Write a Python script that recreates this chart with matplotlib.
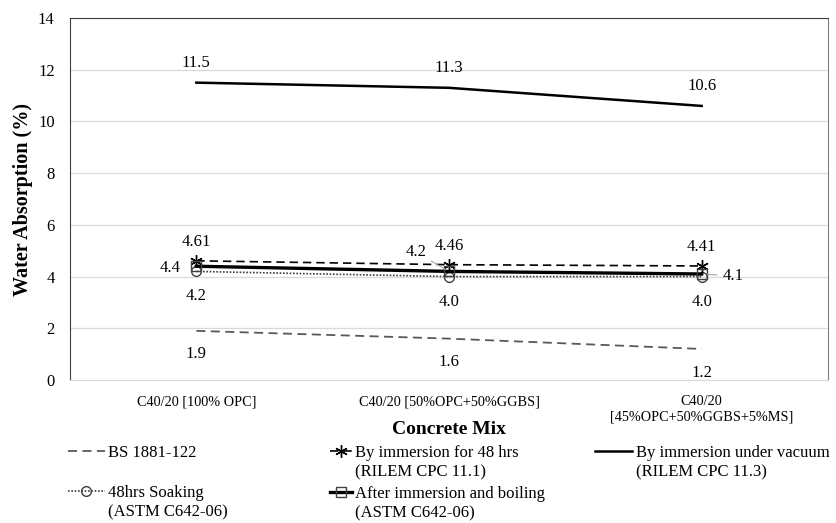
import matplotlib.pyplot as plt
import numpy as np

plt.rcParams['font.family'] = ['Liberation Serif', 'DejaVu Serif']

# data
mixes = ['C40/20 [100% OPC]', 'C40/20 [50%OPC+50%GGBS]', 'C40/20\n[45%OPC+50%GGBS+5%MS]']
bs1881 = [1.9, 1.6, 1.2]
imm48 = [4.61, 4.46, 4.41]
vacuum = [11.5, 11.3, 10.6]
soaking = [4.2, 4.0, 4.0]
boiling = [4.4, 4.2, 4.1]

x = np.arange(len(mixes))
W, H = 837, 523

fig = plt.figure(figsize=(W / 100, H / 100), dpi=100)
ax = fig.add_axes([70 / W, 1 - 380 / H, 758 / W, 362 / H])

ax.set_xlim(-0.5, 2.5)
ax.set_ylim(0, 14)
ax.set_yticks(range(0, 15, 2))
ax.grid(axis='y', color='#d9d9d9', lw=0.9)
ax.set_axisbelow(True)

l_bs, = ax.plot(x, bs1881, ls=(0, (5, 3)), color='#595959', lw=1.3)
l_soak, = ax.plot(x, soaking, ls=(0, (1, 1)), color='#404040', lw=1.2,
                  marker='o', ms=7, mfc='none', mec='#404040')
l_imm, = ax.plot(x, imm48, ls=(0, (5, 3)), color='black', lw=1.2,
                 marker=(6, 2, 0), ms=9, mec='black')
l_boil, = ax.plot(x, boiling, ls='-', color='black', lw=2.4,
                  marker='s', ms=7, mfc='none', mec='#404040', mew=1)
l_vac, = ax.plot(x, vacuum, ls='-', color='black', lw=1.8)

fs = 12
for i in x:
    ax.annotate(f'{vacuum[i]:.1f}', (i, vacuum[i]), xytext=(0, 14), textcoords='offset points',
                ha='center', va='center', fontsize=fs)
    ax.annotate(f'{imm48[i]:.2f}', (i, imm48[i]), xytext=(0, 13.5), textcoords='offset points',
                ha='center', va='center', fontsize=fs)
    ax.annotate(f'{soaking[i]:.1f}', (i, soaking[i]), xytext=(0, -18), textcoords='offset points',
                ha='center', va='center', fontsize=fs)
    ax.annotate(f'{bs1881[i]:.1f}', (i, bs1881[i]), xytext=(0, -17), textcoords='offset points',
                ha='center', va='center', fontsize=fs)

# boiling labels placed by hand around markers
ax.annotate(f'{boiling[0]:.1f}', (x[0], boiling[0]), xytext=(-11, -1.5), textcoords='offset points',
            ha='right', va='center', fontsize=fs)
ax.annotate(f'{boiling[1]:.1f}', (x[1], boiling[1]), xytext=(-16.5, 14), textcoords='offset points',
            ha='right', va='center', fontsize=fs,
            arrowprops=dict(arrowstyle='-', color='#a6a6a6', lw=0.8, shrinkA=2, shrinkB=3))
ax.annotate(f'{boiling[2]:.1f}', (x[2], boiling[2]), xytext=(15, -1.5), textcoords='offset points',
            ha='left', va='center', fontsize=fs,
            arrowprops=dict(arrowstyle='-', color='#a6a6a6', lw=0.8, shrinkA=2, shrinkB=4))

ax.set_xticks(x)
ax.set_xticklabels(mixes, fontsize=10.3)
ax.tick_params(axis='x', length=0, pad=11)
ax.tick_params(axis='y', length=0, labelsize=12, pad=11)
ax.set_ylabel('Water Absorption (%)', fontsize=14.5, fontweight='bold')
ax.yaxis.set_label_coords(-0.049, 0.5)
ax.set_xlabel('Concrete Mix', fontsize=14, fontweight='bold', va='center')
ax.xaxis.set_label_coords(0.5, -0.138)

for side in ['left', 'top']:
    ax.spines[side].set_color('#404040')
ax.spines['right'].set_color('#7f7f7f')
ax.spines['bottom'].set_color('#d9d9d9')

# legend: one entry per slot, handle next to first line, second line as text below
lfs = 12
px = lfs * 100 / 72
entries = [
    (l_bs, 'BS 1881-122', '', 68, 453, 2.2),
    (l_soak, '48hrs Soaking', '(ASTM C642-06)', 68, 493, 2.2),
    (l_imm, 'By immersion for 48 hrs', '(RILEM CPC 11.1)', 330, 453, 1.3),
    (l_boil, 'After immersion and boiling', '(ASTM C642-06)', 330, 494, 1.3),
    (l_vac, 'By immersion under vacuum', '(RILEM CPC 11.3)', 595, 453, 2.25),
]
for h, line1, line2, hx, hy, hl in entries:
    fig.legend([h], [line1], loc='center left', bbox_to_anchor=(hx / W, 1 - hy / H),
               frameon=False, fontsize=lfs, handlelength=hl, handletextpad=0.2,
               borderpad=0, borderaxespad=0)
    if line2:
        tx = hx + (hl + 0.2) * px
        fig.text(tx / W, 1 - (hy + 19) / H, line2, fontsize=lfs, va='center', ha='left')

fig.savefig('out.png', dpi=100)
